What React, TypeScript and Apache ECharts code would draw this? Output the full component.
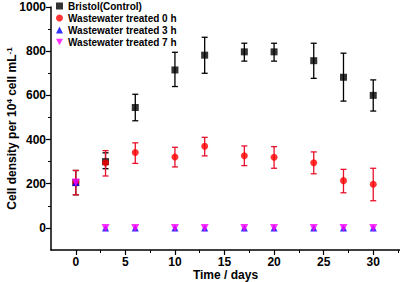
import React, { useEffect, useRef } from "react";
import * as echarts from "echarts";

const days = [0, 3, 6, 10, 13, 17, 20, 24, 27, 30];
const bristol = [205, 300, 545, 715, 782, 797, 797, 757, 682, 600];
const bristolLow = [150, 268, 485, 640, 700, 755, 755, 677, 574, 529];
const bristolHigh = [260, 340, 605, 795, 863, 836, 836, 836, 791, 670];
const ww0 = [205, 295, 341, 321, 370, 327, 320, 295, 214, 198];
const ww0Low = [150, 235, 292, 276, 326, 282, 270, 245, 159, 123];
const ww0High = [260, 350, 385, 365, 410, 371, 368, 344, 265, 270];
const ww3 = [205, 0, 0, 0, 0, 0, 0, 0, 0, 0];
const ww7 = [205, 0, 0, 0, 0, 0, 0, 0, 0, 0];
const xTicks = [0, 5, 10, 15, 20, 25, 30];
const xMinor = [2.5, 7.5, 12.5, 17.5, 22.5, 27.5, 32.5];
const yTicks = [0, 200, 400, 600, 800, 1000];
const yMinor = [100, 300, 500, 700, 900];

const seriesNames = [
  "Bristol(Control)",
  "Wastewater treated 0 h",
  "Wastewater treated 3 h",
  "Wastewater treated 7 h",
];

const downTri = "path://M0,0L10,0L5,9Z";

function errSeries(low: number[], high: number[], color: string, z: number) {
  return {
    type: "custom",
    silent: true,
    z,
    data: days.map((d, i) => [d, low[i], high[i]]),
    renderItem: (params: any, api: any) => {
      const x = api.value(0);
      const lo = api.coord([x, api.value(1)]);
      const hi = api.coord([x, api.value(2)]);
      const cw = 3;
      const style = { stroke: color, lineWidth: 1.3 };
      return {
        type: "group",
        children: [
          { type: "line", shape: { x1: lo[0], y1: lo[1], x2: hi[0], y2: hi[1] }, style },
          { type: "line", shape: { x1: lo[0] - cw, y1: lo[1], x2: lo[0] + cw, y2: lo[1] }, style },
          { type: "line", shape: { x1: hi[0] - cw, y1: hi[1], x2: hi[0] + cw, y2: hi[1] }, style },
        ],
      };
    },
  };
}

export default function App() {
  const ref = useRef<HTMLDivElement>(null);
  useEffect(() => {
    const chart = echarts.init(ref.current!, null, { renderer: "svg" });
    const font = "Liberation Sans, Arial, sans-serif";
    const fmt = (v: number) => String(v);
    chart.setOption({
      animation: false,
      textStyle: { fontFamily: font },
      grid: { left: 51, right: 0, top: 7, bottom: 32, outerBoundsMode: "none" },
      legend: {
        orient: "vertical",
        left: 56,
        top: 1,
        padding: 0,
        itemWidth: 7,
        itemHeight: 7,
        itemGap: 2,
        textStyle: { fontSize: 10, fontWeight: "bold", color: "#000", fontFamily: font },
        data: [
          { name: seriesNames[0], icon: "rect" },
          { name: seriesNames[1], icon: "circle" },
          { name: seriesNames[2], icon: "triangle" },
          { name: seriesNames[3], icon: downTri },
        ],
      },
      xAxis: [
        {
          type: "value",
          min: -2.5,
          max: 32.7,
          splitLine: { show: false },
          name: "Time / days",
          nameLocation: "middle",
          nameGap: 19,
          nameMoveOverlap: false,
          nameTextStyle: { fontSize: 12, fontWeight: "bold", color: "#000", fontFamily: font },
          axisLine: { show: true, onZero: false, lineStyle: { color: "#000", width: 1.5 } },
          axisTick: { show: true, customValues: xTicks, length: 5, lineStyle: { color: "#000", width: 1.2 } },
          axisLabel: { customValues: xTicks, formatter: fmt, fontSize: 12, fontWeight: "bold", color: "#000", margin: 6, fontFamily: font },
        },
        {
          type: "value",
          min: -2.5,
          max: 32.7,
          splitLine: { show: false },
          position: "bottom",
          axisLine: { show: false, onZero: false },
          axisTick: { show: true, customValues: xMinor, length: 3, lineStyle: { color: "#000", width: 1 } },
          axisLabel: { show: false },
        },
      ],
      yAxis: [
        {
          type: "value",
          min: -100,
          max: 1000,
          splitLine: { show: false },
          name: "{a|Cell density per 10}{s|4}{a| cell mL}{s|-1}",
          nameLocation: "middle",
          nameGap: 32,
          nameMoveOverlap: false,
          nameTextStyle: {
            rich: {
              a: { fontSize: 12, fontWeight: "bold", color: "#000", fontFamily: font },
              s: { fontSize: 8, fontWeight: "bold", color: "#000", fontFamily: font, verticalAlign: "top", padding: [0, 0, 6, 0] },
            },
          },
          axisLine: { show: true, onZero: false, lineStyle: { color: "#000", width: 1.5 } },
          axisTick: { show: true, customValues: yTicks, length: 5, lineStyle: { color: "#000", width: 1.2 } },
          axisLabel: { customValues: yTicks, formatter: fmt, fontSize: 12, fontWeight: "bold", color: "#000", margin: 5, fontFamily: font },
        },
        {
          type: "value",
          min: -100,
          max: 1000,
          splitLine: { show: false },
          position: "left",
          axisLine: { show: false, onZero: false },
          axisTick: { show: true, customValues: yMinor, length: 3, lineStyle: { color: "#000", width: 1 } },
          axisLabel: { show: false },
        },
      ],
      series: [
        errSeries(bristolLow, bristolHigh, "#000", 2),
        errSeries(ww0Low, ww0High, "#e8102a", 3),
        {
          name: seriesNames[0],
          type: "scatter",
          symbol: "rect",
          symbolSize: 7,
          itemStyle: { color: "#000" },
          z: 4,
          data: days.map((d, i) => [d, bristol[i]]),
        },
        {
          name: seriesNames[1],
          type: "scatter",
          symbol: "circle",
          symbolSize: 7,
          itemStyle: { color: "#f00" },
          z: 5,
          data: days.map((d, i) => [d, ww0[i]]),
        },
        {
          name: seriesNames[2],
          type: "scatter",
          symbol: "triangle",
          symbolSize: 7,
          itemStyle: { color: "#00f" },
          z: 6,
          data: days.map((d, i) => [d, ww3[i]]),
        },
        {
          name: seriesNames[3],
          type: "scatter",
          symbol: downTri,
          symbolSize: 8,
          itemStyle: { color: "#ff00ff" },
          z: 7,
          data: days.map((d, i) => [d, ww7[i]]),
        },
      ],
    });
    return () => chart.dispose();
  }, []);
  return (
    <div style={{ position: "absolute", left: 0, top: 0, width: 400, height: 282, background: "#fff" }}>
      <div ref={ref} style={{ width: 400, height: 282 }} />
    </div>
  );
}
